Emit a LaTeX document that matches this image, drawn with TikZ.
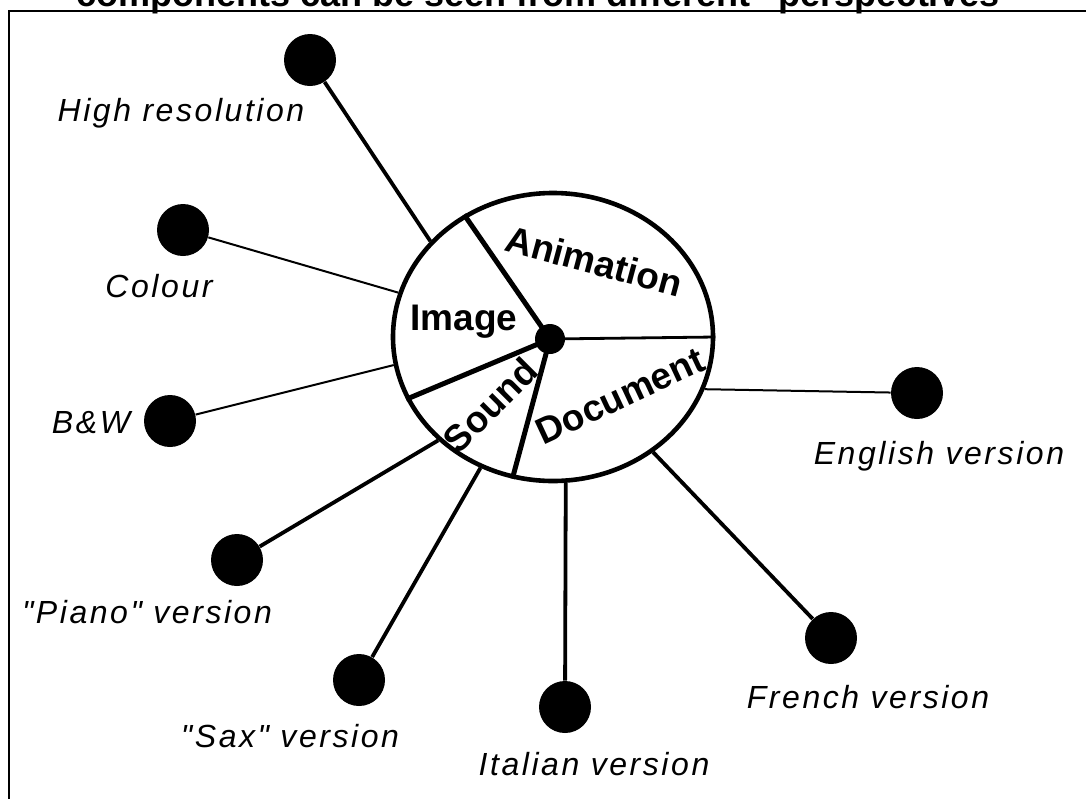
\documentclass[tikz,border=0pt]{standalone}
\usepackage{fontspec}
\setmainfont{Liberation Sans}
\newfontfamily\lblfont[LetterSpace=8]{Liberation Sans}
\usetikzlibrary{shapes.geometric}
\tikzset{
  leafdot/.style    = {circle, minimum size=26pt, inner sep=0pt, fill=black},
  hubdot/.style     = {circle, minimum size=15pt, inner sep=0pt, fill=black},
  ringnode/.style   = {ellipse, minimum width=160pt, minimum height=144pt,
                       inner sep=0pt, draw=black, line width=2.3pt},
  leaflbl/.style    = {font=\lblfont\itshape\fontsize{16}{19}\selectfont,
                       inner sep=0pt, anchor=base},
  seglbl/.style     = {font=\bfseries\fontsize{18.5}{21}\selectfont, inner sep=0pt},
  titlelbl/.style   = {font=\bfseries\fontsize{18}{21}\selectfont, inner sep=0pt, anchor=base},
  thinspoke/.style  = {line width=1pt},
  thickspoke/.style = {line width=1.9pt},
  divider/.style    = {line width=2.5pt},
  frameline/.style  = {line width=1pt}
}

\begin{document}
\begin{tikzpicture}[x=0.5pt, y=-0.5pt]
  \useasboundingbox (0,0) rectangle (1086,798);
  % Title and frame
  \node[titlelbl] (title) at (547,6) {components can be seen from different "perspectives"};
  \draw[frameline] (9,830) |- (1110,11);
  % Centre
  \node[ringnode] (ring) at (553,337) {};
  \node[hubdot]   (hub)  at (550,339) {};
  % Leaves
  \node[leafdot] (hires)   at (310, 60) {};
  \node[leafdot] (colour)  at (183,230) {};
  \node[leafdot] (bw)      at (170,421) {};
  \node[leafdot] (piano)   at (237,560) {};
  \node[leafdot] (sax)     at (359,680) {};
  \node[leafdot] (italian) at (565,707) {};
  \node[leafdot] (french)  at (831,638) {};
  \node[leafdot] (english) at (917,393) {};
  % Leaf labels
  \node[leaflbl] (hireslbl)   at (181,121) {High resolution};
  \node[leaflbl] (colourlbl)  at (159,297) {Colour};
  \node[leaflbl] (bwlbl)      at ( 91,433) {B\&W};
  \node[leaflbl] (pianolbl)   at (147,623) {"Piano" version};
  \node[leaflbl] (saxlbl)     at (290,747) {"Sax" version};
  \node[leaflbl] (italianlbl) at (594,775) {Italian version};
  \node[leaflbl] (frenchlbl)  at (868,708) {French version};
  \node[leaflbl] (englishlbl) at (939,464) {English version};
  % Dividers
  \draw[divider] (hub.center) -- (ring.126);
  \draw[divider] (hub.center) -- (ring.203);
  \draw[divider] (hub.center) -- (ring.254);
  \draw[line width=1.4pt] (hub.center) -- (ring.0);
  % Segment labels
  \node[seglbl] (image)    at (464,322) {Image};
  \node[seglbl, rotate=-15] (anim)  at (594,261) {Animation};
  \node[seglbl, rotate=25]  (doc)   at (620,396) {Document};
  \node[seglbl, rotate=45]  (sound) at (490,405) {Sound};
  % Spokes
  \draw[thickspoke] (hires)   -- (ring.142);
  \draw[thinspoke]  (colour)  -- (ring.164);
  \draw[thinspoke]  (bw)      -- (ring.190);
  \draw[thickspoke] (piano)   -- (ring.222);
  \draw[thickspoke] (sax)     -- (ring.241);
  \draw[thickspoke] (italian) -- (ring.275);
  \draw[thickspoke] (french)  -- (ring.311);
  \draw[thinspoke]  (english) -- (ring.341);
\end{tikzpicture}
\end{document}
